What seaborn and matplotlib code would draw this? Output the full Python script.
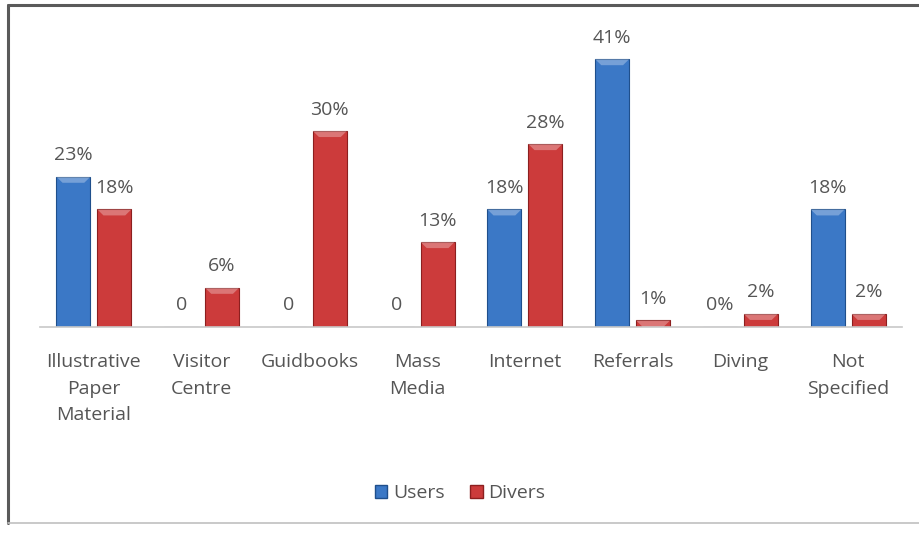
import numpy as np
import pandas as pd
import matplotlib
matplotlib.use("Agg")
import matplotlib.pyplot as plt
from matplotlib.lines import Line2D
from matplotlib.patches import Polygon
import seaborn as sns

# -----------------------------
# Data
# -----------------------------
categories = ["Illustrative\nPaper\nMaterial", "Visitor\nCentre", "Guidbooks",
              "Mass\nMedia", "Internet", "Referrals", "Diving", "Not\nSpecified"]
users = [23, 0, 0, 0, 18, 41, 0, 18]
divers = [18, 6, 30, 13, 28, 1, 2, 2]
users_labels = ["23%", "0", "0", "0", "18%", "41%", "0%", "18%"]
divers_labels = ["18%", "6%", "30%", "13%", "28%", "1%", "2%", "2%"]
groups = ["Users", "Divers"]

df = pd.DataFrame({
    "Source": categories * 2,
    "Share": users + divers,
    "Group": [groups[0]] * len(categories) + [groups[1]] * len(categories),
})

# -----------------------------
# Style
# -----------------------------
sns.set_style("white")
plt.rcParams["font.family"] = ["Open Sans", "DejaVu Sans"]
TEXT = "#555555"
FS = 14
palette = {"Users": "#3b78c6", "Divers": "#cc3b3b"}
edges = {"Users": "#1f4f8c", "Divers": "#8c1f1f"}

fig = plt.figure(figsize=(9.2, 5.33), dpi=100)
ax = fig.add_axes([40 / 920, 1 - 327 / 533, 862 / 920, 307 / 533])

sns.barplot(data=df, x="Source", y="Share", hue="Group", hue_order=groups,
            palette=palette, saturation=1, width=0.76, gap=0.17, ax=ax)

# bevel look: darker outline + light cap on top of each bar
px_per_unit = 307 / 47
for grp, cont in zip(groups, ax.containers):
    for bar in cont:
        bar.set_edgecolor(edges[grp])
        bar.set_linewidth(0.8)
        h = bar.get_height()
        if h <= 0:
            continue
        x0, w = bar.get_x(), bar.get_width()
        cap = min(6 / px_per_unit, h)
        inset = w * 0.18
        poly = Polygon([(x0, h), (x0 + w, h), (x0 + w - inset, h - cap), (x0 + inset, h - cap)],
                       closed=True, facecolor="white", alpha=0.3, edgecolor="none", zorder=3)
        ax.add_patch(poly)

ax.bar_label(ax.containers[0], labels=users_labels, padding=9, fontsize=FS, color=TEXT)
ax.bar_label(ax.containers[1], labels=divers_labels, padding=9, fontsize=FS, color=TEXT)

ax.set_ylim(0, 47)
ax.set_xlim(-0.5, len(categories) - 0.5)
ax.set_xlabel("")
ax.set_ylabel("")
ax.set_yticks([])
for s in ["top", "right", "left"]:
    ax.spines[s].set_visible(False)
ax.spines["bottom"].set_color("#c8c8c8")
ax.spines["bottom"].set_linewidth(1.2)
ax.tick_params(axis="x", length=0, pad=19, labelsize=FS, labelcolor=TEXT)
for lbl in ax.get_xticklabels():
    lbl.set_linespacing(1.6)
    lbl.set_va("top")

handles, labels = ax.get_legend_handles_labels()
ax.legend(handles, labels, loc="center", bbox_to_anchor=(0.5, 1 - 493 / 533),
          bbox_transform=fig.transFigure, ncol=2, frameon=False, fontsize=FS,
          handlelength=0.65, handleheight=0.65, handletextpad=0.3, columnspacing=1.3,
          labelcolor=TEXT)
for h in ax.get_legend().legend_handles:
    h.set_edgecolor(edges[h.get_label()] if h.get_label() in edges else "none")

# outer chart frame
fig.add_artist(Line2D([8 / 920, 1.0], [1 - 5 / 533] * 2, transform=fig.transFigure,
                      color="#5a5a5a", lw=2.2))
fig.add_artist(Line2D([8 / 920] * 2, [1 - 5 / 533, 1 - 523 / 533], transform=fig.transFigure,
                      color="#5a5a5a", lw=2.2))
fig.add_artist(Line2D([8 / 920, 1.0], [1 - 523 / 533] * 2, transform=fig.transFigure,
                      color="#c0c0c0", lw=1.2))

plt.savefig("out.png", dpi=100)
plt.close()
